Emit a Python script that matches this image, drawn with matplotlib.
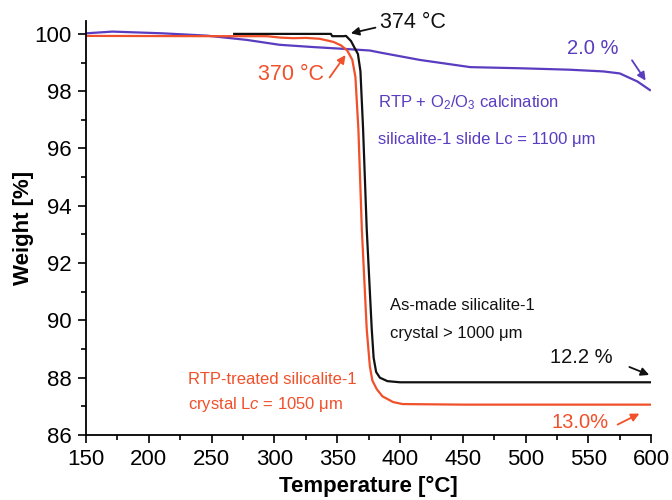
import matplotlib
matplotlib.use("Agg")
import matplotlib.pyplot as plt
from matplotlib.ticker import MultipleLocator

plt.rcParams['font.family'] = ['Liberation Sans', 'DejaVu Sans']
plt.rcParams['mathtext.fontset'] = 'custom'
plt.rcParams['mathtext.rm'] = 'Liberation Sans'
plt.rcParams['mathtext.it'] = 'Liberation Sans:italic'

RED = '#f0502a'
PURPLE = '#5a3cc0'
BLACK = '#111111'

# 1. TGA curves (temperature in C, weight in %)
asmade_T = [268, 345, 346, 355, 357, 361, 364, 366.5, 368.5, 370.6, 373.5, 377.5,
            379, 381, 384, 390, 400, 600]
asmade_W = [100.0, 100.0, 99.92, 99.92, 99.93, 99.75, 99.5, 99.3, 98.7, 96.7, 93.2, 89.7,
            88.7, 88.2, 88.0, 87.88, 87.84, 87.84]

rtp_T = [150, 250, 294, 305, 315, 325, 336, 347, 353, 358, 362, 364.5, 366.9, 369.6,
         373.5, 376, 378, 381.5, 386, 394.5, 402, 450, 600]
rtp_W = [99.93, 99.92, 99.92, 99.87, 99.85, 99.86, 99.83, 99.72, 99.6, 99.42, 99.1, 98.5,
         96.65, 93.2, 89.7, 88.4, 87.9, 87.6, 87.35, 87.15, 87.08, 87.06, 87.06]

ozone_T = [150, 171, 211, 246, 278, 304, 331, 358, 376, 384, 416, 456, 496, 535, 562,
           575, 589, 599]
ozone_W = [100.02, 100.08, 100.02, 99.94, 99.79, 99.62, 99.54, 99.47, 99.42, 99.35, 99.09,
           98.84, 98.80, 98.75, 98.69, 98.62, 98.34, 98.04]

# 2. Figure
fig = plt.figure(figsize=(6.72, 5.0), dpi=100)
ax = fig.add_axes([0.128, 0.13, 0.841, 0.828])

ax.plot(ozone_T, ozone_W, color=PURPLE, lw=1.6)
ax.plot(rtp_T, rtp_W, color=RED, lw=1.6)
ax.plot(asmade_T, asmade_W, color=BLACK, lw=1.6)

ax.set_xlim(150, 600)
ax.set_ylim(86, 100.45)
ax.xaxis.set_major_locator(MultipleLocator(50))
ax.xaxis.set_minor_locator(MultipleLocator(25))
ax.yaxis.set_major_locator(MultipleLocator(2))
ax.yaxis.set_minor_locator(MultipleLocator(1))
ax.tick_params(which='major', direction='out', length=5.8, width=1.2, labelsize=16, pad=4.5)
ax.tick_params(which='minor', direction='out', length=3.6, width=1.2)
for s in ['top', 'right']:
    ax.spines[s].set_visible(False)
for s in ['left', 'bottom']:
    ax.spines[s].set_linewidth(1.3)

ax.set_xlabel('Temperature [°C]', fontsize=16, fontweight='bold', labelpad=4)
ax.set_ylabel('Weight [%]', fontsize=16, fontweight='bold', labelpad=0.5)

# 3. Annotations
ax.text(384.2, 100.4, '374 °C', fontsize=15.5, color=BLACK, va='center', clip_on=False)
ax.annotate('', xy=(358.7, 100.0), xytext=(382.6, 100.24),
            arrowprops=dict(arrowstyle='-|>', color=BLACK, lw=1.3, mutation_scale=12),
            annotation_clip=False)

ax.text(287, 98.57, '370 °C', fontsize=15.5, color=RED, va='center')
ax.annotate('', xy=(357.9, 99.34), xytext=(342.7, 98.4),
            arrowprops=dict(arrowstyle='-|>', color=RED, lw=1.3, mutation_scale=12))

ax.text(532.7, 99.48, '2.0 %', fontsize=14.5, color=PURPLE, va='center')
ax.annotate('', xy=(596.8, 98.29), xytext=(583.5, 99.16),
            arrowprops=dict(arrowstyle='-|>', color=PURPLE, lw=1.3, mutation_scale=12))

ax.text(382.6, 97.6, r'RTP + O$_2$/O$_3$ calcination', fontsize=12, color=PURPLE, va='center')
ax.text(382.6, 96.31, 'silicalite-1 slide Lc = 1100 μm', fontsize=12, color=PURPLE, va='center')

ax.text(392.1, 90.53, 'As-made silicalite-1', fontsize=12, color=BLACK, va='center')
ax.text(392.1, 89.55, 'crystal > 1000 μm', fontsize=12, color=BLACK, va='center')

ax.text(519.5, 88.71, '12.2 %', fontsize=14.5, color=BLACK, va='center')
ax.annotate('', xy=(600.5, 88.06), xytext=(580.6, 88.41),
            arrowprops=dict(arrowstyle='-|>', color=BLACK, lw=1.3, mutation_scale=12),
            annotation_clip=False)

ax.text(231.5, 87.95, 'RTP-treated silicalite-1', fontsize=12, color=RED, va='center')
ax.text(231.5, 87.08, r'crystal L$c$ = 1050 μm', fontsize=12, color=RED, va='center')

ax.text(520.9, 86.45, '13.0%', fontsize=14.5, color=RED, va='center')
ax.annotate('', xy=(592.6, 86.79), xytext=(571.3, 86.32),
            arrowprops=dict(arrowstyle='-|>', color=RED, lw=1.3, mutation_scale=12))

fig.savefig('out.png', dpi=100)
